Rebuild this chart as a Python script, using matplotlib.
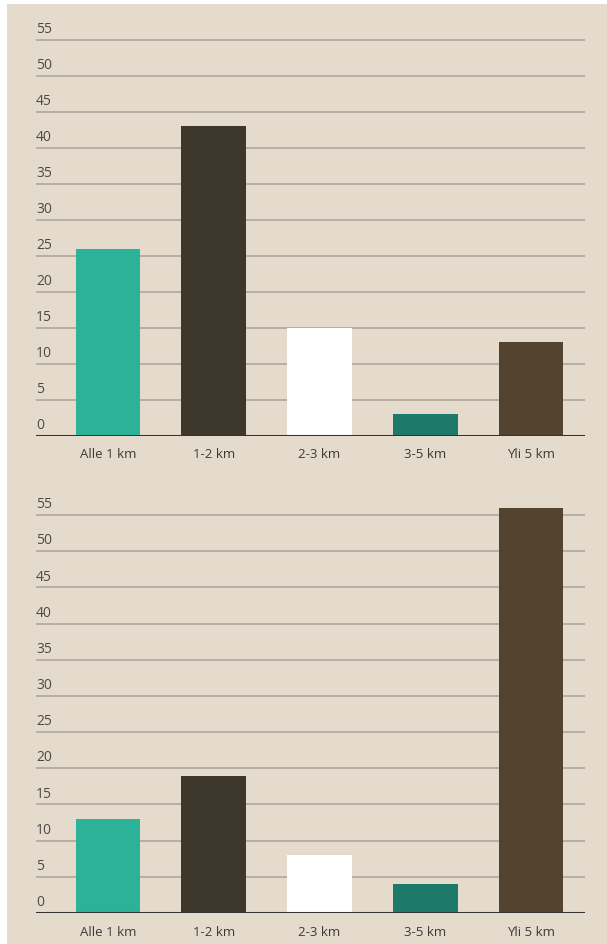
import matplotlib.pyplot as plt
from matplotlib.patches import Rectangle
from matplotlib.transforms import blended_transform_factory, offset_copy

categories = ["Alle 1 km", "1-2 km", "2-3 km", "3-5 km", "Yli 5 km"]
values_top = [26, 43, 15, 3, 13]
values_bottom = [13, 19, 8, 4, 56]
yticks = [0, 5, 10, 15, 20, 25, 30, 35, 40, 45, 50, 55]
bar_colors = ["#2bb298", "#3e372b", "#ffffff", "#1d7a6a", "#52442f"]

BG = "#e4dbcd"
W, H = 607, 944

plt.rcParams["font.family"] = ["Open Sans", "DejaVu Sans"]

fig = plt.figure(figsize=(W / 100, H / 100), dpi=100, facecolor="white")
fig.patches.append(Rectangle((7 / W, 0), 1 - 7 / W, 1 - 4 / H,
                             transform=fig.transFigure, facecolor=BG,
                             edgecolor="none", zorder=-10))


def draw(ax, values):
    ax.set_facecolor("none")
    x = range(len(categories))
    ax.bar(x, values, width=0.61, color=bar_colors, zorder=3)
    ax.set_xlim(-0.68, 4.51)
    ax.set_ylim(0, 58)
    for t in yticks[1:]:
        ax.axhline(t, color="#aaa296", linewidth=1.1, zorder=1)
    ax.axhline(0, color="#333333", linewidth=2.2, zorder=4)
    trans = offset_copy(blended_transform_factory(ax.transAxes, ax.transData),
                        fig=fig, x=0, y=2, units="points")
    for t in yticks:
        ax.text(0, t, str(t), transform=trans, ha="left", va="bottom",
                fontsize=10, color="#4a4a4a")
    ax.set_yticks([])
    ax.set_xticks(list(x))
    ax.set_xticklabels(categories, fontsize=9.5, color="#3a3a3a")
    ax.tick_params(axis="x", length=0, pad=9)
    for s in ax.spines.values():
        s.set_visible(False)


ax1 = fig.add_axes([36 / W, (H - 436) / H, 549 / W, 417.6 / H])
ax2 = fig.add_axes([36 / W, (H - 913) / H, 549 / W, 419.7 / H])
draw(ax1, values_top)
draw(ax2, values_bottom)

fig.savefig("out.png", dpi=100, facecolor="white")
